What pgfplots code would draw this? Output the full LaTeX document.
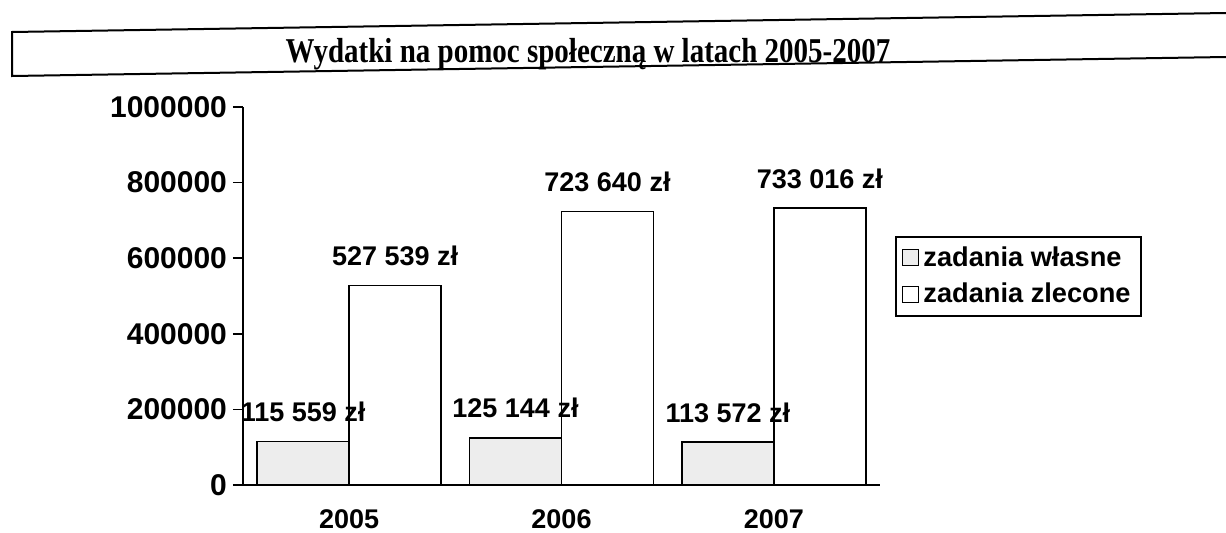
\documentclass[border=0pt]{standalone}
\usepackage{fontspec}
\setmainfont{Liberation Sans}
\newfontfamily\titlefont{Liberation Serif}
\usepackage{pgfplots}
\pgfplotsset{compat=1.18}

\begin{document}
\begin{tikzpicture}[font=\fontsize{13}{15}\selectfont\bfseries]
\useasboundingbox (0,0) rectangle (613pt,266pt);

% ramka tytulu (lekko krzywa jak na skanie)
\draw[line width=1pt] (613pt,259.5pt) -- (6pt,250pt) -- (6pt,228pt) -- (613pt,237.5pt);
\node at (294pt,239pt) {\scalebox{1}[1.2]{\titlefont\fontsize{14.5}{16}\selectfont\bfseries Wydatki na pomoc społeczną w latach 2005-2007}};

\begin{axis}[
    at={(121.5pt,23.5pt)}, anchor=south west,
    scale only axis,
    width=318.5pt, height=189pt,
    axis x line=bottom, axis y line=left,
    axis line style={-, line width=1pt},
    xmin=-0.5, xmax=2.5,
    ymin=0, ymax=1000000,
    ytick={0,200000,400000,600000,800000,1000000},
    scaled y ticks=false,
    /pgf/number format/.cd, fixed, 1000 sep={}, assume math mode=true,
    /pgfplots/.cd,
    tick align=outside,
    major tick length=5pt,
    tick style={black, line width=0.8pt},
    yticklabel style={font=\fontsize{15}{17}\selectfont\bfseries, xshift=0.5pt},
    xtick={0,1,2},
    xticklabels={2005,2006,2007},
    major x tick style={draw=none},
    extra x ticks={-0.5,0.5,1.5,2.5},
    extra x tick labels={},
    extra x tick style={major x tick style={black, line width=0.8pt}},
    xticklabel style={yshift=-4pt, font=\fontsize{13.5}{15}\selectfont\bfseries},
    ybar=0pt, bar width=46pt,
    nodes near coords,
    point meta=explicit symbolic,
    every node near coord/.append style={black, yshift=6pt,
        font=\fontsize{13.5}{15}\selectfont\bfseries},
    legend style={at={(1.024,0.66)}, anchor=north west,
        draw=black, line width=1pt, row sep=3pt,
        inner xsep=3pt, inner ysep=3pt,
        font=\fontsize{13.6}{16}\selectfont\bfseries},
    legend cell align=left,
    legend image code/.code={\draw[#1, line width=0.6pt] (0pt,-4pt) rectangle (8pt,4pt);},
]
\addplot[draw=black, line width=0.8pt, fill=black!7] coordinates {
    (0,115559) [115 559 zł]
    (1,125144) [125 144 zł]
    (2,113572) [113 572 zł]
};
\addplot[draw=black, line width=0.8pt, fill=white] coordinates {
    (0,527539) [527 539 zł]
    (1,723640) [723 640 zł]
    (2,733016) [733 016 zł]
};
\legend{zadania własne, zadania zlecone}
\end{axis}
\end{tikzpicture}
\end{document}
